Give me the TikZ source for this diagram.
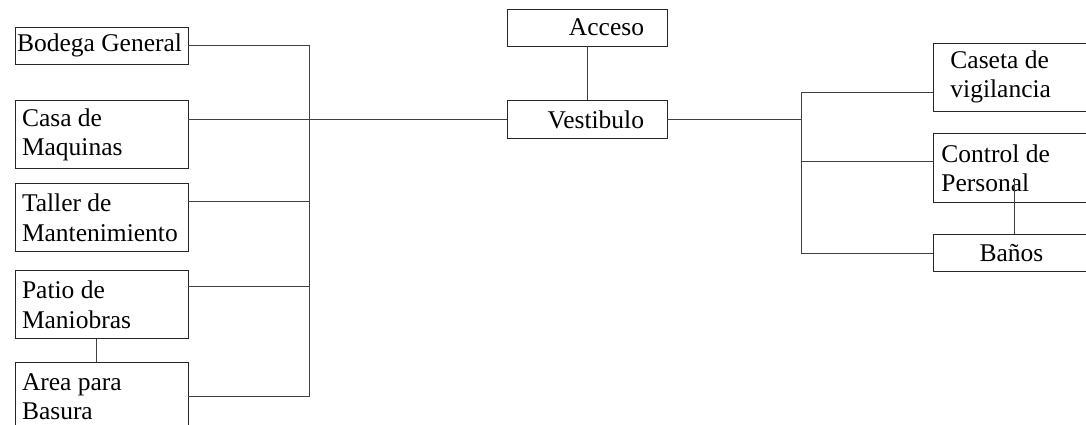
\documentclass[tikz,border=0pt]{standalone}
\usepackage{fontspec}
\setmainfont{Liberation Serif}
\usetikzlibrary{positioning}

\begin{document}
\begin{tikzpicture}[
    x=1pt, y=-1pt,
    box/.style={draw=black!85, line width=0.9pt, align=flush left, inner ysep=0pt, font=\fontsize{25.5}{29.5}\selectfont},
    leftbox/.style={box, minimum height=68pt, text width=159pt, inner xsep=7pt},
    midbox/.style={box, align=flush right, minimum height=37pt, text width=114pt, inner xsep=23pt},
    rightbox/.style={box, minimum height=68pt, text width=140pt, inner xsep=8pt},
    link/.style={draw=black!75, line width=0.9pt}
]
\useasboundingbox (0,0) rectangle (1086,425);
\clip (0,0) rectangle (1086,425);

% left column
\node[leftbox, minimum height=37pt, text width=169pt, inner xsep=2pt] (bodega) at (101.5,45.5) {Bodega General};
\node[leftbox, below=36pt of bodega] (casa) {Casa de\\Maquinas};
\node[leftbox, below=14pt of casa] (taller) {Taller de\\Mantenimiento};
\node[leftbox, below=18pt of taller] (patio) {Patio de\\Maniobras};
\node[leftbox, below=23pt of patio] (area) {Area para\\Basura};

% centre
\node[midbox] (acceso) at (587,27.5) {Acceso};
\node[midbox, minimum height=38pt, below=54pt of acceso] (vestibulo) {Vestibulo};

% right column
\node[rightbox, text width=122pt, inner xsep=17pt, anchor=west] (caseta) at (933,77) {Caseta de\\vigilancia};
\node[rightbox, minimum height=69pt, below=22pt of caseta] (control) {Control de\\Personal};
\node[rightbox, align=flush center, minimum height=37pt, below=31pt of control] (banos) {Baños};

% junctions
\coordinate (lbus) at (309,0);
\coordinate (jtaller) at (309,201);
\coordinate (jpatio) at (309,286);
\coordinate (rtop) at (801,92);
\coordinate (jctrl) at (801,161);
\coordinate (ctrlin) at (1014,178);

\draw[link] (bodega.east) -| (lbus |- area.east) -- (area.east);
\draw[link] (jtaller) -- (jtaller -| taller.east);
\draw[link] (jpatio) -- (jpatio -| patio.east);
\draw[link] ([xshift=-5.5pt]patio.south) -- ([xshift=-5.5pt]area.north);
\draw[link] (vestibulo.west) -- (vestibulo.west -| casa.east);
\draw[link] (acceso) -- (vestibulo);
\draw[link] (vestibulo.east) -- (vestibulo.east -| rtop);
\draw[link] (caseta.west |- rtop) -- (rtop) |- (banos.west);
\draw[link] (jctrl) -- (jctrl -| control.west);
\draw[link] (ctrlin) -- (ctrlin |- banos.north);
\end{tikzpicture}
\end{document}
